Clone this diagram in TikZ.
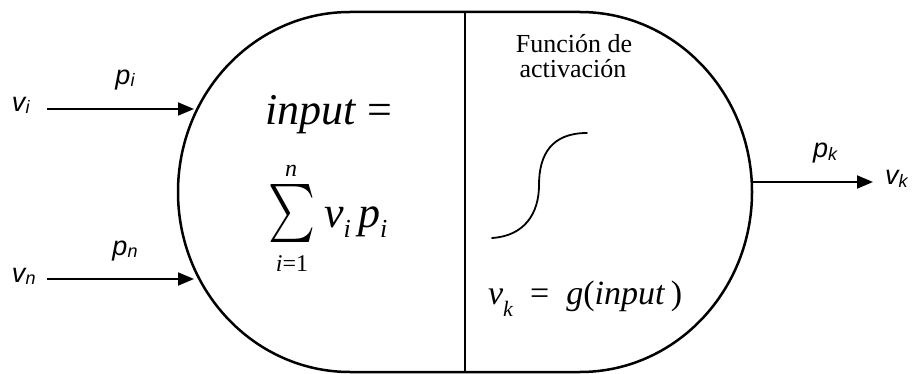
\documentclass[tikz,border=0pt]{standalone}
\usepackage{fontspec}
\usepackage{graphicx}
\setmainfont{Liberation Serif}
\newfontfamily\arialf{Liberation Sans}
\usetikzlibrary{arrows.meta}
\newcommand{\sflab}[2]{{\arialf\itshape\fontsize{27}{27}\selectfont #1\raisebox{-2pt}{\fontsize{18}{18}\selectfont #2}}}
\begin{document}
\begin{tikzpicture}[x=1pt,y=-1pt,
  outline/.style={line width=2.5pt, line join=round},
  conn/.style={line width=1.8pt,-{Triangle[length=16pt,width=13pt]}},
  lab/.style={inner sep=0pt, outer sep=0pt},
  curve/.style={line width=1.8pt, line cap=round}]
\useasboundingbox (0,0) rectangle (920,374);
% neuron body
\draw[outline] (350,12) -- (580,12)
  arc[start angle=-90, end angle=90, x radius=172, y radius=180]
  -- (350,372)
  arc[start angle=90, end angle=270, x radius=172, y radius=180]
  -- cycle;
\draw[outline] (465,12) -- (465,372);
% input labels
\node[lab, anchor=base west] (vi) at (12,112) {\sflab{v}{i}};
\node[lab, anchor=base] (pi) at (125,85) {\sflab{p}{i}};
\node[lab, anchor=base west] (vn) at (12,282) {\sflab{v}{n}};
\node[lab, anchor=base] (pn) at (125,255) {\sflab{p}{n}};
% output labels
\node[lab, anchor=base] (pk) at (825,158) {\sflab{p}{k}};
\node[lab, anchor=base west] (vk) at (885,185) {\sflab{v}{k}};
% connectors
\coordinate (a1s) at (47,109);
\coordinate (a1e) at (194,109);
\coordinate (a2s) at (47,279);
\coordinate (a2e) at (194,279);
\coordinate (a3s) at (752,182);
\coordinate (a3e) at (873,182);
\draw[conn] (a1s) -- (a1e);
\draw[conn] (a2s) -- (a2e);
\draw[conn] (a3s) -- (a3e);
% left half: weighted sum
\node[lab, anchor=base west] (inp) at (265,125)
  {\fontsize{44}{44}\selectfont\textit{input} =};
\node[lab] (sum) at (291.5,214) {\resizebox*{47pt}{58pt}{$\sum$}};
\node[lab, anchor=base] (supn) at (291,176) {\fontsize{24}{24}\selectfont\textit{n}};
\node[lab, anchor=base] (subi) at (292,271) {\fontsize{24}{24}\selectfont\textit{i}=1};
\node[lab, anchor=base west] (vp) at (324,227)
  {\fontsize{44}{44}\selectfont\textit{v}\raisebox{-10pt}{\fontsize{26}{26}\selectfont\textit{i}}\,\textit{p}\raisebox{-10pt}{\fontsize{26}{26}\selectfont\textit{i}}};
% right half: activation
\node[lab, anchor=base] (fun1) at (574,53) {\fontsize{26}{26}\selectfont Función de};
\node[lab, anchor=base] (fun2) at (573,78) {\fontsize{26}{26}\selectfont activación};
\draw[curve] (492,238) .. controls (524,236) and (539,214) .. (539,185)
  .. controls (539,154) and (552,133) .. (587,133);
\node[lab, anchor=base west] (gk) at (488,304)
  {\fontsize{34}{34}\selectfont\textit{v}\raisebox{-12pt}{\fontsize{22}{22}\selectfont\textit{k}}\ \ =\ \ \textit{g}(\textit{input}\,)};
\end{tikzpicture}
\end{document}
